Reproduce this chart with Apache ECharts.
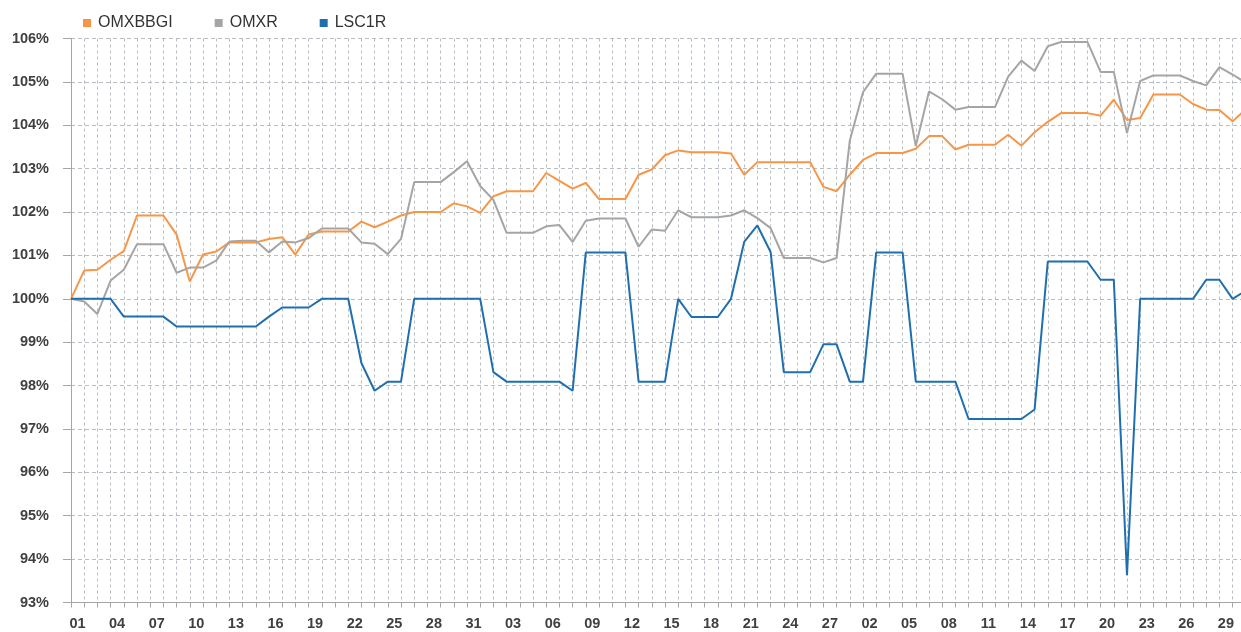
<!DOCTYPE html>
<html><head><meta charset="utf-8">
<script src="https://cdn.jsdelivr.net/npm/echarts@6/dist/echarts.min.js"></script>
<style>html,body{margin:0;padding:0;background:#fff}#c{width:1241px;height:632px}</style>
</head><body><div id="c"></div>
<script>
// Categories: one per calendar day, Jan 1 .. Mar 31
const monthCodes = ['01', '02', '03'];
const monthLengths = [31, 28, 31];
const categories = [];
monthCodes.forEach((m, k) => {
  for (let d = 1; d <= monthLengths[k]; d++) categories.push(m + '-' + String(d).padStart(2, '0'));
});

const seriesNames = ['OMXBBGI', 'OMXR', 'LSC1R'];

const omxbbgi = [
  100.0, 100.65, 100.67, 100.9, 101.1, 101.92, 101.92, 101.92, 101.48, 100.4,
  101.02, 101.09, 101.3, 101.3, 101.3, 101.38, 101.42, 101.02, 101.48, 101.55,
  101.55, 101.55, 101.78, 101.65, 101.78, 101.92, 102.0, 102.0, 102.0, 102.2,
  102.13, 101.98, 102.36, 102.48, 102.48, 102.48, 102.9, 102.72, 102.54, 102.67,
  102.3, 102.3, 102.3, 102.86, 102.98, 103.31, 103.42, 103.38, 103.38, 103.38,
  103.35, 102.86, 103.15, 103.15, 103.15, 103.15, 103.15, 102.58, 102.48, 102.86,
  103.2, 103.36, 103.36, 103.36, 103.46, 103.75, 103.75, 103.44, 103.55, 103.55,
  103.55, 103.78, 103.53, 103.84, 104.08, 104.28, 104.28, 104.28, 104.22, 104.59,
  104.12, 104.17, 104.71, 104.71, 104.71, 104.49, 104.36, 104.35, 104.09, 104.37
];

const omxr = [
  100.0, 99.94, 99.65, 100.42, 100.67, 101.26, 101.26, 101.26, 100.6, 100.72,
  100.72, 100.88, 101.32, 101.34, 101.34, 101.07, 101.32, 101.3, 101.4, 101.62,
  101.62, 101.62, 101.3, 101.27, 101.03, 101.38, 102.69, 102.69, 102.69, 102.92,
  103.17, 102.6, 102.28, 101.52, 101.52, 101.52, 101.67, 101.7, 101.31, 101.8,
  101.85, 101.85, 101.85, 101.2, 101.6, 101.57, 102.04, 101.88, 101.88, 101.88,
  101.92, 102.04, 101.86, 101.63, 100.94, 100.94, 100.94, 100.84, 100.94, 103.65,
  104.76, 105.19, 105.19, 105.19, 103.52, 104.78, 104.6, 104.36, 104.42, 104.42,
  104.42, 105.12, 105.49, 105.25, 105.82, 105.92, 105.92, 105.92, 105.23, 105.23,
  103.82, 105.02, 105.15, 105.15, 105.15, 105.02, 104.92, 105.34, 105.17, 104.98
];

const lsc1r = [
  100.0, 100.0, 100.0, 100.0, 99.59, 99.59, 99.59, 99.59, 99.36, 99.36,
  99.36, 99.36, 99.36, 99.36, 99.36, 99.59, 99.8, 99.8, 99.8, 100.0,
  100.0, 100.0, 98.52, 97.88, 98.09, 98.09, 100.0, 100.0, 100.0, 100.0,
  100.0, 100.0, 98.31, 98.09, 98.09, 98.09, 98.09, 98.09, 97.88, 101.07,
  101.07, 101.07, 101.07, 98.09, 98.09, 98.09, 100.0, 99.58, 99.58, 99.58,
  100.0, 101.31, 101.69, 101.08, 98.31, 98.31, 98.31, 98.95, 98.95, 98.09,
  98.09, 101.07, 101.07, 101.07, 98.09, 98.09, 98.09, 98.09, 97.23, 97.23,
  97.23, 97.23, 97.23, 97.45, 100.86, 100.86, 100.86, 100.86, 100.44, 100.44,
  93.63, 100.0, 100.0, 100.0, 100.0, 100.0, 100.44, 100.44, 100.0, 100.19
];

const colors = ['#F79646', '#A5A5A5', '#1F6FB0'];
const FONT = '"Liberation Sans", Arial, sans-serif';
const gridColor = '#b8bdc4';
const axisColor = '#a6a6a6';

const chart = echarts.init(document.getElementById('c'), null, { renderer: 'canvas' });
chart.setOption({
  animation: false,
  color: colors,
  textStyle: { fontFamily: FONT },
  legend: {
    left: 78, top: 10,
    icon: 'rect', itemWidth: 8, itemHeight: 8, itemGap: 42,
    textStyle: { fontSize: 16, color: '#333', fontFamily: FONT, padding: [0, 0, 0, 2] },
    data: seriesNames
  },
  grid: { left: 71, right: -4.8, top: 38.5, bottom: 29.5, containLabel: false, outerBoundsMode: 'none' },
  xAxis: {
    type: 'category',
    data: categories,
    boundaryGap: false,
    axisLine: { lineStyle: { color: axisColor, width: 1 } },
    axisTick: { show: true, interval: 0, length: 5, lineStyle: { color: axisColor } },
    axisLabel: {
      interval: 2,
      formatter: v => v.slice(3),
      fontSize: 14.5, fontWeight: 'bold', color: '#404040', fontFamily: FONT,
      margin: 14, padding: [0, 0, 0, 13]
    },
    splitLine: { show: true, interval: 0, lineStyle: { type: [3, 3], color: gridColor, width: 1 } }
  },
  yAxis: {
    type: 'value', min: 93, max: 106, interval: 1,
    axisLine: { show: true, lineStyle: { color: axisColor, width: 1 } },
    axisTick: { show: true, length: 8, lineStyle: { color: axisColor } },
    axisLabel: { formatter: '{value}%', fontSize: 14.5, fontWeight: 'bold', color: '#404040', fontFamily: FONT, margin: 22 },
    splitLine: { show: true, lineStyle: { type: [4, 3], color: gridColor, width: 1 } }
  },
  series: [
    { name: seriesNames[0], type: 'line', data: omxbbgi, symbol: 'none', lineStyle: { width: 2 }, emphasis: { disabled: true } },
    { name: seriesNames[1], type: 'line', data: omxr, symbol: 'none', lineStyle: { width: 2 }, emphasis: { disabled: true } },
    { name: seriesNames[2], type: 'line', data: lsc1r, symbol: 'none', lineStyle: { width: 2 }, emphasis: { disabled: true } }
  ]
});
</script></body></html>
